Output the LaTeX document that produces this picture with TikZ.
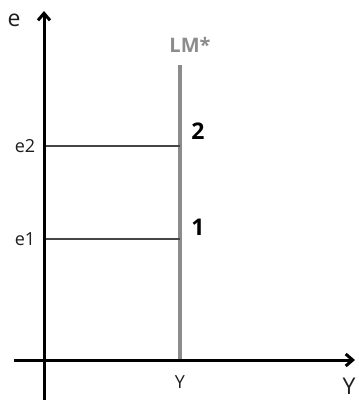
\documentclass[tikz,border=0pt]{standalone}
\usepackage{fontspec}
\setmainfont{Open Sans}
\usetikzlibrary{arrows.meta}
\begin{document}
\begin{tikzpicture}[x=1pt,y=-1pt,
  axis/.style={line width=3pt,-{Straight Barb[length=7pt,width=12pt,line width=3pt]}},
  lmline/.style={line width=3.4pt,draw={rgb,255:red,140;green,140;blue,140}},
  guide/.style={line width=1.1pt,draw={rgb,255:red,70;green,70;blue,70}},
  lab/.style={font=\fontsize{23}{23}\selectfont,text={rgb,255:red,30;green,30;blue,30}},
  slab/.style={font=\fontsize{18}{18}\selectfont,text={rgb,255:red,30;green,30;blue,30}},
  num/.style={font=\bfseries\fontsize{23}{23}\selectfont}]
\useasboundingbox (0,0) rectangle (359,400);
\coordinate (ybot) at (44,400);
\coordinate (ytop) at (44,11);
\coordinate (xl) at (14,360);
\coordinate (xr) at (355,360);
\coordinate (lmtop) at (180,65);
\coordinate (lmbot) at (180,360);
\coordinate (g2l) at (44,146);
\coordinate (g2r) at (180,146);
\coordinate (g1l) at (44,239);
\coordinate (g1r) at (180,239);
\draw[lmline] (lmtop) -- (lmbot);
\draw[guide] (g2l) -- (g2r);
\draw[guide] (g1l) -- (g1r);
\draw[axis] (ybot) -- (ytop);
\draw[axis] (xl) -- (xr);
\node[lab] (e) at (14,20) {e};
\node[font=\bfseries\fontsize{20}{20}\selectfont,text={rgb,255:red,140;green,140;blue,140}] (lm) at (190,45) {LM*};
\node[num] (n2) at (198,131) {2};
\node[num] (n1) at (198,227) {1};
\node[slab] (e2) at (25,146) {e2};
\node[slab] (e1) at (25,239) {e1};
\node[slab] (y1) at (180,382) {Y};
\node[lab] (y2) at (349,386) {Y};
\end{tikzpicture}
\end{document}
